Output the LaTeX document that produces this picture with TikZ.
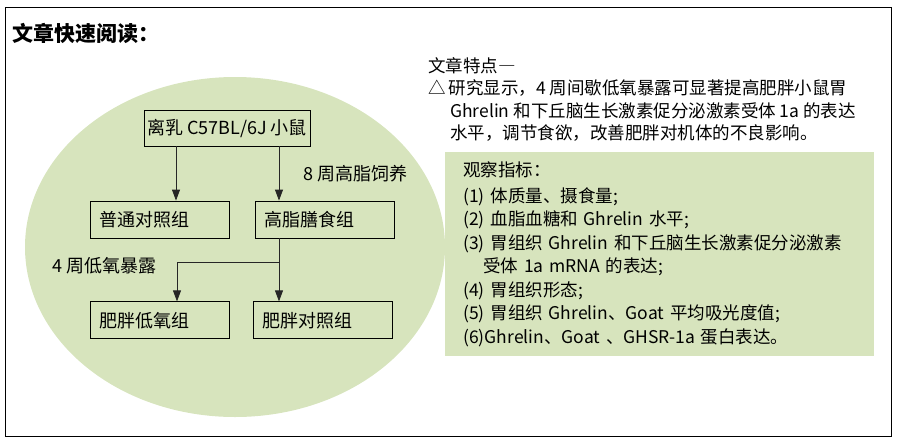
\documentclass[tikz,border=0pt]{standalone}
\usepackage{fontspec}
\setmainfont{Noto Sans CJK SC}
\usepackage{tikz}
\usetikzlibrary{positioning,arrows.meta}
\definecolor{leafgreen}{HTML}{D7E4BD}

\begin{document}
\begin{tikzpicture}[
      x=1pt, y=-1pt,
      >={Triangle[width=8pt,length=11pt]}
    ]

    \tikzstyle{source} = [rectangle, draw=black, line width=0.8pt, fill=leafgreen, minimum width=160pt, minimum height=36pt, inner xsep=3pt, font=\fontsize{18}{21}\selectfont]

    \tikzstyle{groupbox} = [rectangle, draw=black, line width=0.8pt, fill=leafgreen, minimum height=37pt, text width=121pt, inner xsep=9pt, align=left, font=\fontsize{18}{21}\selectfont]

    \tikzstyle{flow} = [draw=black!85, line width=0.8pt, ->]

    \tikzstyle{note} = [inner sep=0pt, font=\fontsize{18}{21}\selectfont]

    \useasboundingbox (0,0) rectangle (897,445);
    \draw [line width=0.8pt] (5,7) rectangle (891,436);
    \fill [leafgreen] (235,247) ellipse [x radius=210pt, y radius=170pt];

    \node [anchor=west, inner sep=0pt, font=\fontsize{21}{24}\selectfont\bfseries] (title) at (12,33) {文章快速阅读：};

    % design of the study
    \node [source] (mice) at (227,128) {离乳 C57BL/6J 小鼠};
    \node [groupbox] (ctrl) at (159.5,219.5) {普通对照组};
    \node [groupbox] (hfd) [right=26pt of ctrl] {高脂膳食组};
    \node [groupbox] (obhyp) [below=63pt of ctrl] {肥胖低氧组};
    \node [groupbox] (obctrl) [right=24pt of obhyp] {肥胖对照组};

    \draw [flow] ([xshift=-51pt]mice.south) -- ([xshift=-51pt]mice.south |- ctrl.north);
    \draw [flow] ([xshift=52pt]mice.south) -- ([xshift=52pt]mice.south |- hfd.north) node[note, midway, right=24pt] (feed) {8 周高脂饲养};

    \draw [flow] ([xshift=52pt]mice.south |- hfd.south) -- ++(0,24) coordinate (split) -| node[note, pos=0.5, left=20pt, yshift=-3pt] (hypoxia) {4 周低氧暴露} ([xshift=17.5pt]obhyp.north);
    \draw [flow] (split) -- (split |- obctrl.north);

    % features and indices
    \node [anchor=north west, inner sep=0pt, align=left, font=\fontsize{17.5}{22.5}\selectfont] (feature) at (428,57) {
      文章特点―\\
      △\hspace{3pt}研究显示，4 周间歇低氧暴露可显著提高肥胖小鼠胃\\
      \hspace*{22pt}Ghrelin 和下丘脑生长激素促分泌激素受体 1a 的表达\\
      \hspace*{22pt}水平，调节食欲，改善肥胖对机体的不良影响。};

    \node [anchor=north west, rectangle, fill=leafgreen, minimum width=423pt, minimum height=204pt, text width=393pt, inner xsep=18pt, inner ysep=0pt, align=left, font=\fontsize{17.5}{23.5}\selectfont] (obs) at (445,152) {
      观察指标：\\[2pt]
      (1) 体质量、摄食量;\\
      (2) 血脂血糖和 Ghrelin 水平;\\
      (3) 胃组织 Ghrelin 和下丘脑生长激素促分泌激素\\
      \hspace*{20pt}受体 1a mRNA 的表达;\\
      (4) 胃组织形态;\\
      (5) 胃组织 Ghrelin、Goat 平均吸光度值;\\
      (6)Ghrelin、Goat 、GHSR-1a 蛋白表达。};

\end{tikzpicture}
\end{document}
